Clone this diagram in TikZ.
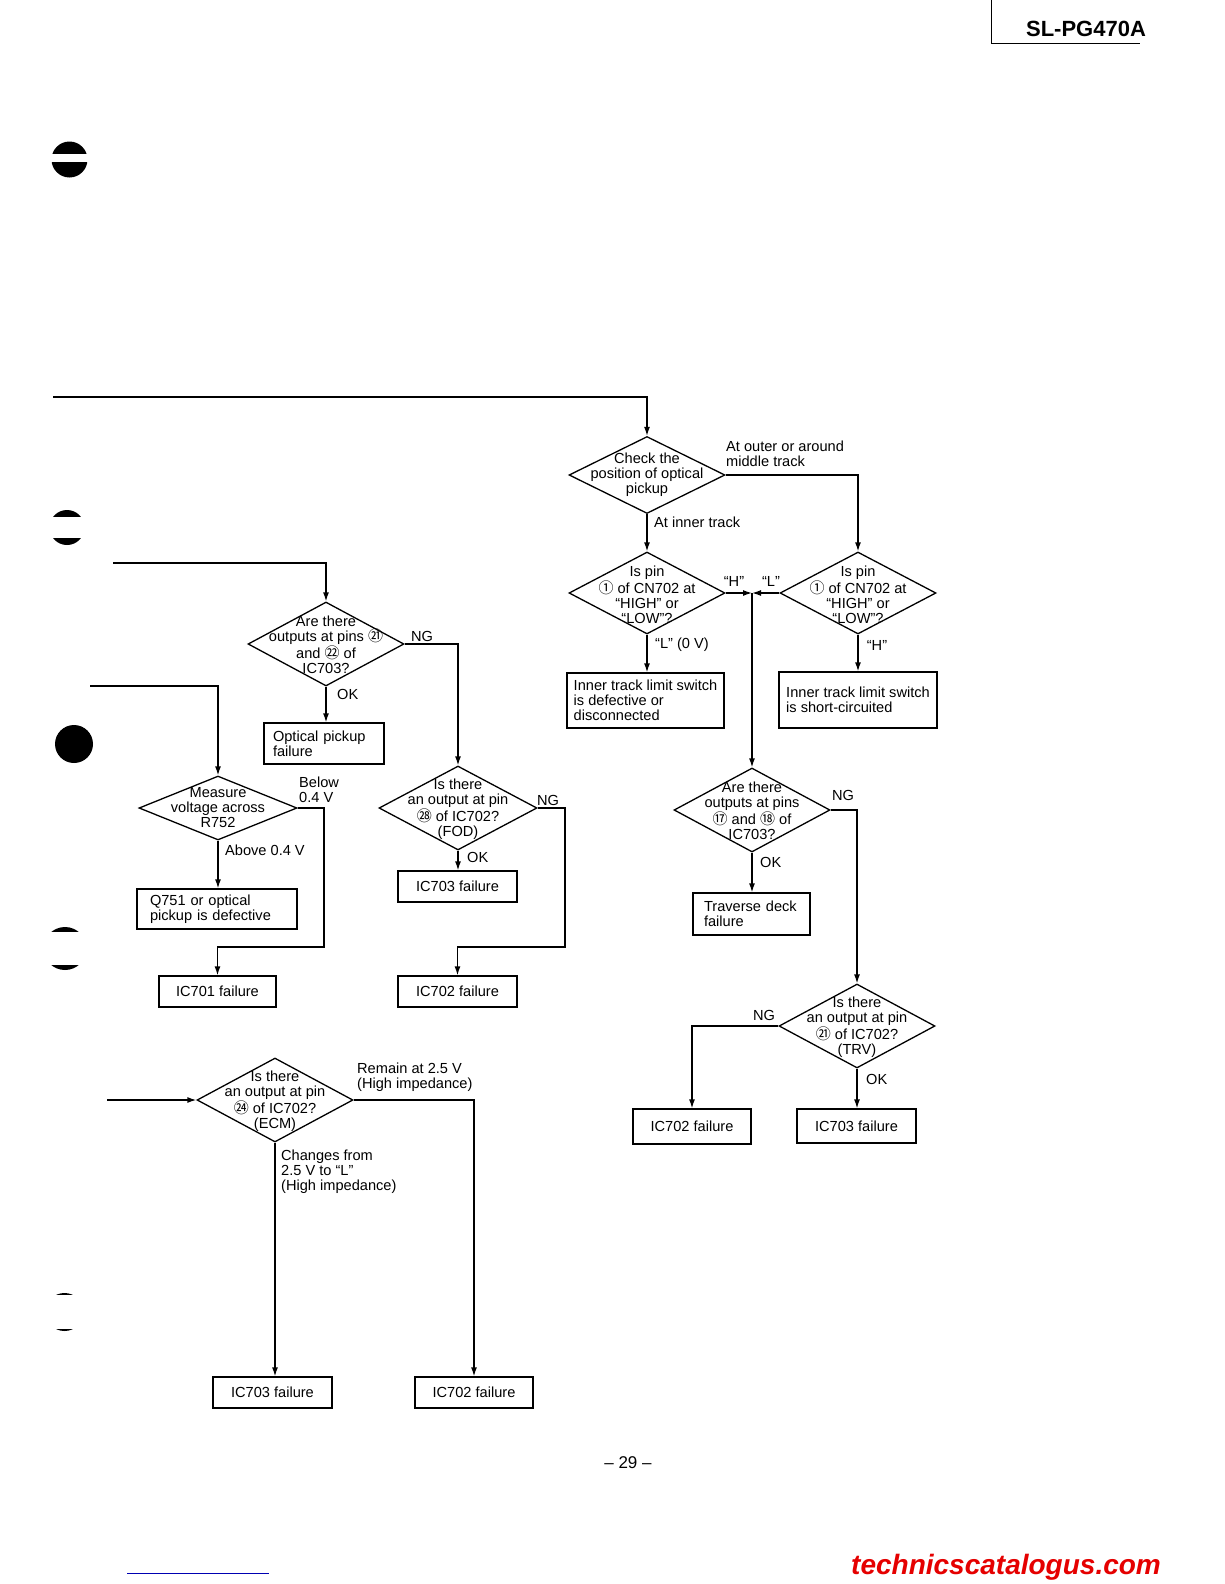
\documentclass[tikz,border=0pt]{standalone}
\usepackage{fontspec}
\setmainfont{Liberation Sans}
\newfontfamily\cjk{Noto Sans CJK SC}
\usetikzlibrary{arrows.meta,shapes.geometric,calc}
\newcommand\cn[1]{{\cjk\fontsize{15}{15}\selectfont #1}}
\begin{document}
\begin{tikzpicture}[x=1pt,y=-1pt,
  every node/.style={font=\fontsize{14.6}{15}\selectfont},
  ln/.style={line width=1.3pt},
  arr/.style={ln,-{Latex[length=9pt,width=6pt]}},
  dia/.style={draw,diamond,inner sep=0pt,line width=1.3pt,minimum width=156pt,minimum height=84pt},
  dtext/.style={align=center,inner sep=0pt},
  bx/.style={draw,line width=1.3pt,inner sep=0pt,align=center},
  lbx/.style={draw,line width=1.3pt,inner ysep=0pt,align=left},
  lab/.style={inner sep=0pt,align=left,anchor=west},
  clab/.style={inner sep=0pt,align=center},
  hole/.style={fill=black},
]
\useasboundingbox (0,0) rectangle (1224,1584);
\fill[white] (0,0) rectangle (1224,1584);

% header
\draw[line width=1pt] (991,0) -- (991,44) -- (1140,44);
\node[clab,font=\fontsize{22}{22}\selectfont\bfseries] (hdr) at (1086,29) {SL-PG470A};

% binder holes
\fill[hole] (69.5,159.5) circle (18);
\fill[white] (48,154) rectangle (92,162);
\fill[hole] (67,527.5) circle (17.5);
\fill[white] (46,517) rectangle (88,538);
\fill[hole] (74,744) circle (19);
\fill[hole] (65,948.5) circle (21.5);
\fill[white] (40,932) rectangle (90,965);
\fill[hole] (64.5,1312) circle (19);
\fill[white] (40,1295) rectangle (90,1329);

% diamonds
\node[dia,minimum height=77pt] (d1) at (647,475) {};
\node[dtext] at (d1) {Check the\\position of optical\\pickup};
\node[dia,minimum height=82pt] (d2l) at (647,593) {};
\node[dtext] at ($(d2l)+(0,2)$) {Is pin\\\cn{①} of CN702 at\\“HIGH” or\\“LOW”?};
\node[dia,minimum height=82pt] (d2r) at (858,593) {};
\node[dtext] at ($(d2r)+(0,2)$) {Is pin\\\cn{①} of CN702 at\\“HIGH” or\\“LOW”?};
\node[dia] (d3) at (326,644) {};
\node[dtext] at ($(d3)+(0,1)$) {Are there\\outputs at pins \cn{㉑}\\and \cn{㉒} of\\IC703?};
\node[dia,minimum height=64pt,minimum width=158pt] (d6) at (218,808) {};
\node[dtext] at (d6) {Measure\\voltage across\\R752};
\node[dia,minimum width=158pt] (d4) at (458,808) {};
\node[dtext] at ($(d4)+(0,1)$) {Is there\\an output at pin\\\cn{㉘} of IC702?\\(FOD)};
\node[dia] (d5) at (752,810) {};
\node[dtext] at ($(d5)+(0,1)$) {Are there\\outputs at pins\\\cn{⑰} and \cn{⑱} of\\IC703?};
\node[dia] (d7) at (857,1026) {};
\node[dtext] at ($(d7)+(0,1)$) {Is there\\an output at pin\\\cn{㉑} of IC702?\\(TRV)};
\node[dia] (d8) at (275,1100) {};
\node[dtext] at ($(d8)+(0,1)$) {Is there\\an output at pin\\\cn{㉔} of IC702?\\(ECM)};

% boxes
\node[lbx,inner xsep=0pt,minimum width=157pt,minimum height=55pt] (bl) at (645.5,700.5) {Inner track limit switch\\is defective or\\disconnected};
\node[lbx,inner xsep=0pt,minimum width=158pt,minimum height=56pt] (br) at (858,700) {Inner track limit switch\\is short-circuited};
\node[lbx,inner xsep=9pt,text width=102pt,minimum height=41pt] (op) at (324,743.5) {Optical pickup\\failure};
\node[lbx,inner xsep=13pt,text width=134pt,minimum height=40pt] (q751) at (217,909) {Q751 or optical\\pickup is defective};
\node[bx,minimum width=117pt,minimum height=31pt] (ic701) at (217.5,991.5) {IC701 failure};
\node[bx,minimum width=119pt,minimum height=31pt] (ic703a) at (457.5,886.5) {IC703 failure};
\node[bx,minimum width=119pt,minimum height=31pt] (ic702a) at (457.5,991.5) {IC702 failure};
\node[lbx,inner xsep=11pt,text width=95pt,minimum height=42pt] (trav) at (751.5,914) {Traverse deck\\failure};
\node[bx,minimum width=118pt,minimum height=35pt] (ic702b) at (692,1126.5) {IC702 failure};
\node[bx,minimum width=119pt,minimum height=34pt] (ic703b) at (856.5,1126) {IC703 failure};
\node[bx,minimum width=119pt,minimum height=31pt] (ic703c) at (272.5,1392.5) {IC703 failure};
\node[bx,minimum width=118pt,minimum height=31pt] (ic702c) at (474,1392.5) {IC702 failure};

% connectors
\coordinate (s1) at (53,397);
\draw[arr] (s1) -| (d1.north);
\draw[arr] (d1.east) -| (d2r.north);
\draw[arr] (d1.south) -- (d2l.north);
\coordinate (j) at (752,593);
\draw[arr] (d2l.east) -- (j);
\draw[arr] (d2r.west) -- (j);
\draw[arr] (j) -- (d5.north);
\draw[arr] (d2l.south) -- (d2l.south |- bl.north);
\draw[arr] (d2r.south) -- (d2r.south |- br.north);

\coordinate (s2) at (113,563);
\draw[arr] (s2) -| (d3.north);
\draw[arr] (d3.east) -| (d4.north);
\draw[arr] (d3.south) -- (d3.south |- op.north);

\coordinate (s3) at (90,686);
\draw[arr] (s3) -| (d6.north);
\draw[arr] (d6.south) -- (d6.south |- q751.north);
\draw[arr] (d6.east) -| (324,947) -| (ic701.north);

\draw[arr] (d4.south) -- (d4.south |- ic703a.north);
\draw[arr] (d4.east) -| (565,947) -| (ic702a.north);

\draw[arr] (d5.south) -- (d5.south |- trav.north);
\draw[arr] (d5.east) -| (d7.north);
\draw[arr] (d7.west) -| (ic702b.north);
\draw[arr] (d7.south) -- (d7.south |- ic703b.north);

\coordinate (s4) at (107,1100);
\draw[arr] (s4) -- (d8.west);
\draw[arr] (d8.east) -| (ic702c.north);
\draw[arr] (d8.south) -- (d8.south |- ic703c.north);

% labels
\node[lab] at (726,453.5) {At outer or around\\middle track};
\node[lab] at (654,522) {At inner track};
\node[clab] at (734,581) {“H”};
\node[clab] at (771,581) {“L”};
\node[lab] at (655,645) {“L” (0 V)};
\node[clab] at (877,645) {“H”};
\node[clab] at (422,636) {NG};
\node[lab] at (337,694) {OK};
\node[lab] at (299,790) {Below\\0.4 V};
\node[lab] at (225,850) {Above 0.4 V};
\node[clab] at (548,800) {NG};
\node[lab] at (467,857) {OK};
\node[clab] at (843,795) {NG};
\node[lab] at (760,862) {OK};
\node[clab] at (764,1015) {NG};
\node[lab] at (866,1079) {OK};
\node[lab] at (357,1077) {Remain at 2.5 V\\(High impedance)};
\node[lab] at (281,1172) {Changes from\\2.5 V to “L”\\(High impedance)};

% footer
\node[clab,font=\fontsize{17}{17}\selectfont] (pg) at (628,1463) {– 29 –};
\node[lab,text=red!90!black,font=\fontsize{28}{28}\selectfont\bfseries\itshape] (wm) at (851,1567) {technicscatalogus.com};
\draw[blue!70!black,line width=0.8pt] (127,1573) -- (269,1573);
\end{tikzpicture}
\end{document}
